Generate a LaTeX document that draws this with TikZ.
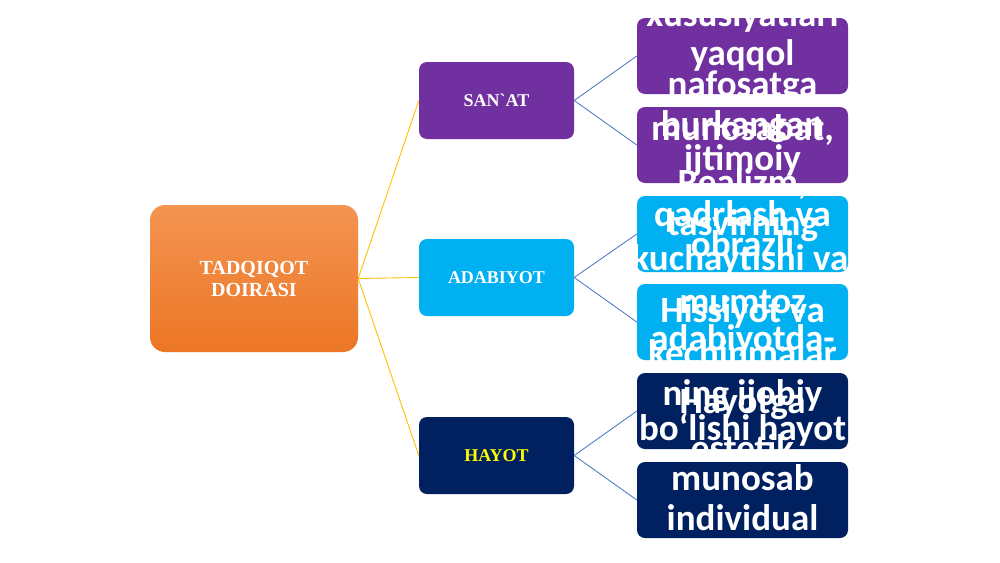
\documentclass[tikz,border=0pt]{standalone}
\usepackage{fontspec}
\setmainfont{Liberation Serif}
\newfontfamily\leaffont{Carlito}
\definecolor{cpurple}{HTML}{7030A0}
\definecolor{cblue}{HTML}{00B0F0}
\definecolor{cnavy}{HTML}{002060}
\definecolor{cgold}{HTML}{FFC000}
\definecolor{cline}{HTML}{4472C4}
\definecolor{corangetop}{RGB}{243,148,82}
\definecolor{corangebot}{RGB}{236,118,36}
\definecolor{cyellow}{HTML}{FFFF00}
\tikzset{
  rootbox/.style={draw=none, rounded corners=15pt, top color=corangetop, bottom color=corangebot,
    minimum width=208pt, minimum height=147pt, inner sep=0pt, text=white, align=center,
    font=\bfseries\fontsize{20}{22}\selectfont},
  midbox/.style={draw=none, rounded corners=8pt, minimum width=155pt, minimum height=77pt,
    inner sep=0pt, text=white, font=\bfseries\fontsize{18}{20}\selectfont},
  leafbox/.style={draw=none, rounded corners=8pt, minimum width=211pt, minimum height=76pt, inner sep=0pt},
  goldline/.style={draw=cgold, line width=0.9pt},
  blueline/.style={draw=cline, line width=0.8pt},
  lt/.style={text=white, anchor=base, inner sep=0pt, font=\leaffont\bfseries\fontsize{37}{37}\selectfont}
}
\begin{document}
\begin{tikzpicture}[x=1pt,y=-1pt]
\useasboundingbox[fill=white] (0,0) rectangle (1000,562);
% nodes
\node[rootbox] (root) at (254,278.5) {TADQIQOT\\DOIRASI};
\node[midbox, fill=cpurple] (sanat) at (496.5,100.5) {SAN\textasciigrave AT};
\node[midbox, fill=cblue] (adab) at (496.5,277.5) {ADABIYOT};
\node[midbox, fill=cnavy, text=cyellow] (hayot) at (496.5,455.5) {HAYOT};
\node[leafbox, fill=cpurple] (l1) at (742.5,56) {};
\node[leafbox, fill=cpurple] (l2) at (742.5,145) {};
\node[leafbox, fill=cblue] (l3) at (742.5,234) {};
\node[leafbox, fill=cblue] (l4) at (742.5,322) {};
\node[leafbox, fill=cnavy] (l5) at (742.5,411) {};
\node[leafbox, fill=cnavy] (l6) at (742.5,500) {};
% connectors
\draw[goldline] (root.east) -- (sanat.west);
\draw[goldline] (root.east) -- (adab.west);
\draw[goldline] (root.east) -- (hayot.west);
\draw[blueline] (sanat.east) -- (l1.west);
\draw[blueline] (sanat.east) -- (l2.west);
\draw[blueline] (adab.east) -- (l3.west);
\draw[blueline] (adab.east) -- (l4.west);
\draw[blueline] (hayot.east) -- (l5.west);
\draw[blueline] (hayot.east) -- (l6.west);
% overflowing leaf texts, visible only on the boxes
\begin{scope}
\clip[rounded corners=8pt] (637,18) rectangle (848,94) (637,107) rectangle (848,183)
  (637,196) rectangle (848,272) (637,284) rectangle (848,360)
  (637,373) rectangle (848,449) (637,462) rectangle (848,538);
\node[lt] (t1) at (742.5,27) {xususiyatlari};
\node[lt] (t2) at (742.5,65) {yaqqol};
\node[lt] (t3) at (742.5,96) {nafosatga};
\node[lt] (t4) at (742.5,136) {burkangan};
\node[lt] (t5) at (742.5,140) {munosabat,};
\node[lt] (t6) at (742.5,170) {ijtimoiy};
\node[lt] (t7) at (742.5,194) {Realizm,};
\node[lt] (t8) at (742.5,226) {qadrlash va};
\node[lt] (t9) at (742.5,235) {tasvirning};
\node[lt] (t10) at (742.5,256) {obrazli};
\node[lt] (t11) at (740,270) {kuchaytishi va};
\node[lt] (t12) at (742.5,313) {mumtoz};
\node[lt] (t13) at (742.5,322) {Hissiyot va};
\node[lt] (t14) at (742.5,350) {adabiyotda-};
\node[lt] (t15) at (742.5,365) {kechinmalar};
\node[lt] (t16) at (742.5,405) {ning ijobiy};
\node[lt] (t17) at (742.5,413) {Hayotga};
\node[lt] (t18) at (742.5,440) {bo‘lishi hayot};
\node[lt] (t19) at (742.5,460) {estetik};
\node[lt] (t20) at (742.5,490) {munosab};
\node[lt] (t21) at (742.5,530) {individual};
\end{scope}
\end{tikzpicture}
\end{document}
